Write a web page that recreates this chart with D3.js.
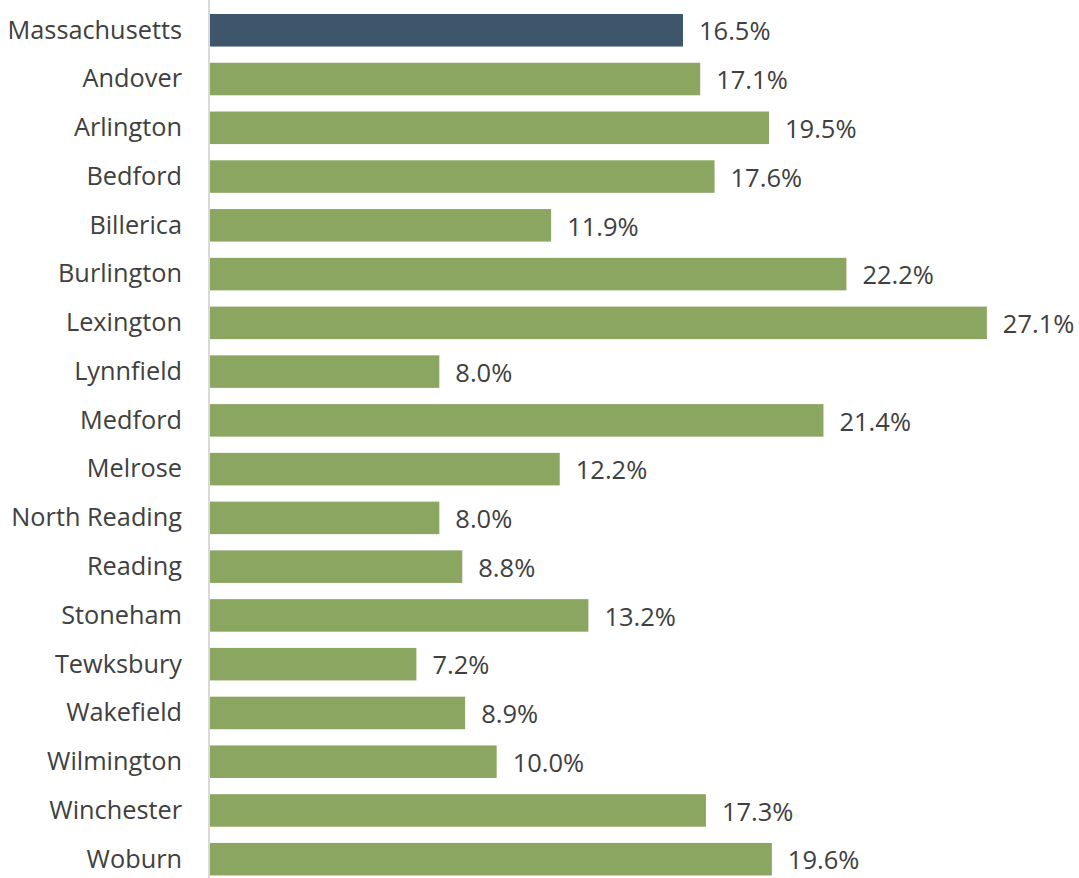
<!DOCTYPE html>
<html>
<head>
<meta charset="utf-8">
<script src="https://cdn.jsdelivr.net/npm/d3@7"></script>
<style>
  html, body { margin: 0; padding: 0; background: #ffffff; }
  svg { display: block; }
</style>
</head>
<body>
<svg id="chart" width="1079" height="878"></svg>
<script>
// Share of population by community
const places = ["Massachusetts", "Andover", "Arlington", "Bedford", "Billerica", "Burlington",
  "Lexington", "Lynnfield", "Medford", "Melrose", "North Reading", "Reading", "Stoneham",
  "Tewksbury", "Wakefield", "Wilmington", "Winchester", "Woburn"];
const shares = [16.5, 17.1, 19.5, 17.6, 11.9, 22.2, 27.1, 8.0, 21.4, 12.2, 8.0, 8.8, 13.2,
  7.2, 8.9, 10.0, 17.3, 19.6];
const highlighted = ["Massachusetts"];

const data = places.map((p, i) => ({ place: p, value: shares[i] }));

const svg = d3.select("#chart");
const fontFamily = "'Open Sans', sans-serif";

const x = d3.scaleLinear().domain([0, 30]).range([210, 1070]);
const y = d3.scaleBand().domain(places).range([5.9, 883.6]).paddingInner(0.333).paddingOuter(0.1665);

// bars
svg.append("g").selectAll("rect").data(data).join("rect")
  .attr("x", x(0))
  .attr("y", d => y(d.place))
  .attr("width", d => x(d.value) - x(0))
  .attr("height", y.bandwidth())
  .attr("fill", d => highlighted.includes(d.place) ? "#3d566b" : "#8ba660");

// category axis
const yAxis = d3.axisLeft(y).tickSize(0).tickPadding(27);
const gy = svg.append("g").attr("transform", `translate(${x(0) - 1},0)`).call(yAxis);
gy.select(".domain").remove();
gy.selectAll("text")
  .attr("font-family", fontFamily)
  .attr("font-size", 25.3)
  .attr("dy", "0.33em")
  .attr("fill", "#404040");
svg.append("line")
  .attr("x1", x(0) - 1).attr("x2", x(0) - 1)
  .attr("y1", 0).attr("y2", 878)
  .attr("stroke", "#d9d9d9").attr("stroke-width", 2);

// value labels
svg.append("g").selectAll("text").data(data).join("text")
  .attr("x", d => x(d.value) + 16)
  .attr("y", d => y(d.place) + y.bandwidth() / 2)
  .attr("dy", "0.4em")
  .attr("font-family", fontFamily)
  .attr("font-size", 25.5)
  .attr("fill", "#404040")
  .text(d => d.value.toFixed(1) + "%");
</script>
</body>
</html>
